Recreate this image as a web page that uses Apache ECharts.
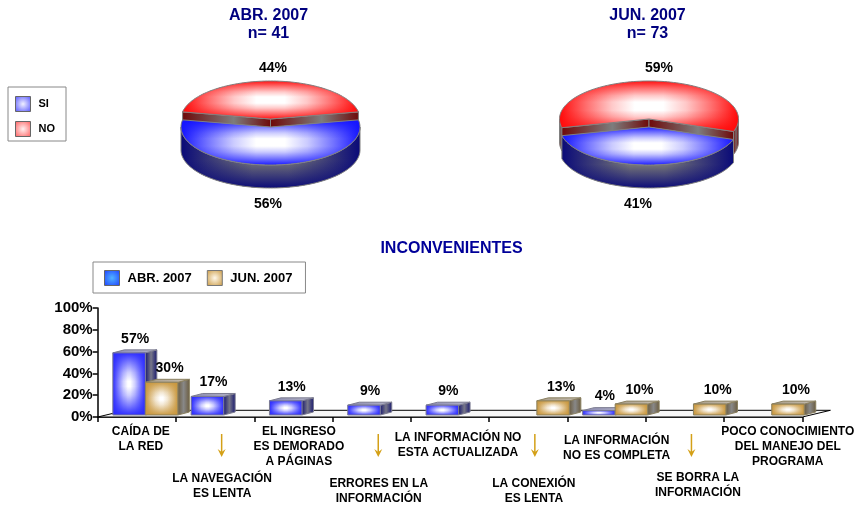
<!DOCTYPE html>
<html>
<head>
<meta charset="utf-8">
<style>
  html, body { margin: 0; padding: 0; background: #fff; }
  #chart { width: 855px; height: 506px; }
</style>
<script src="https://cdn.jsdelivr.net/npm/echarts@6/dist/echarts.min.js"></script>
</head>
<body>
<div id="chart"></div>
<script>
// datos de las tortas
var pieTitles = ['ABR. 2007\nn= 41', 'JUN. 2007\nn= 73'];
var siValues = [56, 41];
var noValues = [44, 59];

// datos de las barras
var categories = [
  'CAÍDA DE\nLA RED',
  'LA NAVEGACIÓN\nES LENTA',
  'EL INGRESO\nES DEMORADO\nA PÁGINAS',
  'ERRORES EN LA\nINFORMACIÓN',
  'LA INFORMACIÓN NO\nESTA ACTUALIZADA',
  'LA CONEXIÓN\nES LENTA',
  'LA INFORMACIÓN\nNO ES COMPLETA',
  'SE BORRA LA\nINFORMACIÓN',
  'POCO CONOCIMIENTO\nDEL MANEJO DEL\nPROGRAMA'
];
var abrValues = [57, 17, 13, 9, 9, null, 4, null, null];
var junValues = [30, null, null, null, null, 13, 10, 10, 10];
var arrowCategories = [1, 3, 5, 7];

// ajustes de dibujo
var FONT = '"Liberation Sans", Arial, sans-serif';
var PIE_CX = [270.5, 649];
var PIE_ROT = [0, 3];
var PIE_RX = 89.5, PIE_RY = 38, PIE_DEPTH = 23;
var NO_CY = 119, SI_CY = 127;
var NO_LABEL = [[273, 68], [659, 68]];
var SI_LABEL = [[268, 204], [638, 204]];
var LABEL_PAD = [[0, 8], [47, 14], [0, 11], [52, 14], [6, 16], [52, 11], [9, 20], [46, 26], [0, 49]];

function stopsOf(list) {
  return list.map(function (s) { return { offset: s[0], color: s[1] }; });
}
function hGrad(stops) {
  return { type: 'linear', x: 0, y: 0, x2: 1, y2: 0, colorStops: stopsOf(stops) };
}
function vGrad(stops) {
  return { type: 'linear', x: 0, y: 0, x2: 0, y2: 1, colorStops: stopsOf(stops) };
}
// pinta un degradado de marco: horizontal opaco y vertical encima con alpha, con caida suave
function boxGrad(rgb, ha, va) {
  function over(k) {
    var c = rgb.map(function (n) { return Math.round(255 + (n - 255) * k); });
    return 'rgb(' + c.join(',') + ')';
  }
  function alpha(k) {
    return 'rgba(' + rgb.join(',') + ',' + k + ')';
  }
  return {
    h: hGrad([[0, over(1)], [ha * 0.35, over(0.6)], [ha * 0.7, over(0.22)], [ha, over(0)],
      [1 - ha, over(0)], [1 - ha * 0.7, over(0.22)], [1 - ha * 0.35, over(0.6)], [1, over(1)]]),
    v: vGrad([[0, alpha(1)], [va * 0.35, alpha(0.6)], [va * 0.7, alpha(0.22)], [va, alpha(0)],
      [1 - va, alpha(0)], [1 - va * 0.7, alpha(0.22)], [1 - va * 0.35, alpha(0.6)], [1, alpha(1)]])
  };
}
function swatch(edge, mid) {
  return { type: 'radial', x: 0.5, y: 0.5, r: 0.7, colorStops: [{ offset: 0, color: mid }, { offset: 1, color: edge }] };
}

function ellPoint(cx, cy, deg) {
  var t = deg * Math.PI / 180;
  return [cx + PIE_RX * Math.sin(t), cy - PIE_RY * Math.cos(t)];
}
function arc(cx, cy, from, to) {
  var pts = [];
  var n = Math.max(2, Math.ceil(Math.abs(to - from) / 2));
  for (var i = 0; i <= n; i++) pts.push(ellPoint(cx, cy, from + (to - from) * i / n));
  return pts;
}
function poly(points, fill, stroke) {
  return { type: 'polygon', shape: { points: points }, style: { fill: fill, stroke: stroke || 'none', lineWidth: stroke ? 1 : 0 } };
}
function sidePoly(cx, cy, from, to, colors) {
  var top = arc(cx, cy, from, to);
  var low = top.map(function (p) { return [p[0], p[1] + PIE_DEPTH]; }).reverse();
  var pts = top.concat(low);
  return [poly(pts, colors.h), poly(pts, colors.v, '#808080')];
}
function textEl(x, y, text, size) {
  return { type: 'text', z2: 50, style: { x: x, y: y, text: text, fill: '#000', font: 'bold ' + size + 'px ' + FONT, align: 'center', verticalAlign: 'middle' } };
}

var sideBlue = {
  h: hGrad([[0, '#0a0a78'], [0.4, '#777777'], [0.6, '#777777'], [1, '#0a0a78']]),
  v: vGrad([[0, 'rgba(10,10,120,0)'], [0.55, 'rgba(10,10,120,0)'], [1, 'rgba(10,10,120,1)']])
};
var sideRed = {
  h: hGrad([[0, '#7a0a0a'], [0.5, '#777777'], [1, '#7a0a0a']]),
  v: vGrad([[0, 'rgba(120,10,10,0)'], [1, 'rgba(120,10,10,0.2)']])
};
var topRed = boxGrad([255, 10, 10], 0.42, 0.42);
var topBlue = boxGrad([20, 20, 255], 0.42, 0.42);

function renderNo(params, api) {
  var i = api.value(0), span = api.value(1) * 3.6;
  var cx = PIE_CX[i], cy = NO_CY, rot = PIE_ROT[i];
  var a0 = rot - span / 2, a1 = rot + span / 2;
  var kids = [];
  // costado exterior que asoma a cada lado
  if (a1 > 90) kids = kids.concat(sidePoly(cx, cy, 90, a1, sideRed));
  if (a0 < -90) kids = kids.concat(sidePoly(cx, cy, a0, -90, sideRed));
  // caras del corte
  [a0, a1].forEach(function (ang) {
    var e = ellPoint(cx, cy, ang);
    var pts = [[cx, cy], e, [e[0], e[1] + PIE_DEPTH], [cx, cy + PIE_DEPTH]];
    kids.push(poly(pts, hGrad([[0, '#6e0808'], [0.58, '#7d7d7d'], [1, '#6e0808']]), '#808080'));
  });
  var top = [[cx, cy]].concat(arc(cx, cy, a0, a1));
  kids.push(poly(top, topRed.h));
  kids.push(poly(top, topRed.v, '#808080'));
  kids.push(textEl(NO_LABEL[i][0], NO_LABEL[i][1], api.value(1) + '%', 14));
  return { type: 'group', children: kids };
}

function renderSi(params, api) {
  var i = api.value(0), span = api.value(1) * 3.6;
  var cx = PIE_CX[i], cy = SI_CY, mid = 180 + PIE_ROT[i];
  var a0 = mid - span / 2, a1 = mid + span / 2;
  var kids = sidePoly(cx, cy, Math.max(90, a0), Math.min(270, a1), sideBlue);
  var top = [[cx, cy]].concat(arc(cx, cy, a0, a1));
  kids.push(poly(top, topBlue.h));
  kids.push(poly(top, topBlue.v, '#808080'));
  kids.push(textEl(SI_LABEL[i][0], SI_LABEL[i][1], api.value(1) + '%', 14));
  return { type: 'group', children: kids };
}

var BAR_SHIFT = 8.5, BAR_RAISE = 2, DEPTH_X = 11.5, DEPTH_Y = 3;
var abrLook = {
  face: boxGrad([42, 42, 255], 0.46, 0.46),
  side: hGrad([[0, '#14146e'], [0.5, '#777788'], [1, '#14146e']]),
  top: hGrad([[0, '#8a8ab0'], [1, '#b4b4c8']]),
  line: '#7c7c90',
  labelShift: 6
};
var junLook = {
  face: boxGrad([200, 150, 60], 0.46, 0.46),
  side: hGrad([[0, '#6a5a3c'], [0.5, '#888888'], [1, '#6a5a3c']]),
  top: hGrad([[0, '#a89c88'], [1, '#c4bcb0']]),
  line: '#8a8060',
  labelShift: 8
};

function barRenderer(look, dir) {
  return function (params, api) {
    var val = api.value(1);
    var c = api.coord([api.value(0), val]);
    var base = api.coord([api.value(0), 0]);
    var w = api.size([1, 0])[0] * 0.415;
    var xc = c[0] + BAR_SHIFT;
    var x0 = dir < 0 ? xc - w : xc;
    var yt = c[1] - BAR_RAISE, yb = base[1] - BAR_RAISE;
    var x1 = x0 + w;
    var kids = [
      poly([[x1, yt], [x1 + DEPTH_X, yt - DEPTH_Y], [x1 + DEPTH_X, yb - DEPTH_Y], [x1, yb]], look.side, look.line),
      poly([[x0, yt], [x0 + DEPTH_X, yt - DEPTH_Y], [x1 + DEPTH_X, yt - DEPTH_Y], [x1, yt]], look.top, look.line),
      { type: 'rect', shape: { x: x0, y: yt, width: w, height: yb - yt }, style: { fill: look.face.h } },
      { type: 'rect', shape: { x: x0, y: yt, width: w, height: yb - yt }, style: { fill: look.face.v, stroke: look.line, lineWidth: 1 } },
      textEl(x0 + w / 2 + look.labelShift, yt - 14, val + '%', 14)
    ];
    return { type: 'group', children: kids };
  };
}

function renderFloor(params, api) {
  var sys = params.coordSys;
  var y = sys.y + sys.height, xa = sys.x, xb = sys.x + sys.width;
  return poly([[xa, y], [xa + 28, y - 6.7], [xb + 28, y - 6.7], [xb, y]], '#f7f7f7', '#000');
}

function renderArrow(params, api) {
  var p = api.coord([api.value(0), 0]);
  var x = p[0] + 6.5, y0 = p[1] + 17, y1 = p[1] + 40;
  return {
    type: 'group',
    children: [
      { type: 'line', shape: { x1: x, y1: y0, x2: x, y2: y1 - 4 }, style: { stroke: '#d4a017', lineWidth: 1.5 } },
      poly([[x - 4, y1 - 8], [x, y1 - 5], [x + 4, y1 - 8], [x, y1]], '#d4a017')
    ]
  };
}

function pairs(list) {
  var out = [];
  list.forEach(function (v, i) { if (v !== null) out.push([i, v]); });
  return out;
}

var chart = echarts.init(document.getElementById('chart'));
var categoryData = categories.map(function (name, i) {
  return { value: name, textStyle: { padding: [LABEL_PAD[i][0], 0, 0, LABEL_PAD[i][1]] } };
});

chart.setOption({
  animation: false,
  backgroundColor: '#ffffff',
  title: [
    { text: pieTitles[0], left: 263.5, top: 2, textAlign: 'center', textStyle: { fontFamily: FONT, fontWeight: 'bold', fontSize: 16, lineHeight: 18, color: '#00007f' } },
    { text: pieTitles[1], left: 642.5, top: 2, textAlign: 'center', textStyle: { fontFamily: FONT, fontWeight: 'bold', fontSize: 16, lineHeight: 18, color: '#00007f' } },
    { text: 'INCONVENIENTES', left: 446.5, top: 236, textAlign: 'center', textStyle: { fontFamily: FONT, fontWeight: 'bold', fontSize: 16, color: '#000099' } }
  ],
  legend: [
    {
      orient: 'vertical', left: 8, top: 87, padding: [9, 11, 4, 7], itemWidth: 15, itemHeight: 15, itemGap: 9,
      borderColor: '#888', borderWidth: 1, backgroundColor: '#fff', selectedMode: false,
      textStyle: { fontFamily: FONT, fontWeight: 'bold', fontSize: 11, color: '#000', padding: [0, 0, 0, 3] },
      data: [
        { name: 'SI', icon: 'rect', itemStyle: { color: swatch('#5050ff', '#f0f0ff'), borderColor: '#666', borderWidth: 1 } },
        { name: 'NO', icon: 'rect', itemStyle: { color: swatch('#ff5a5a', '#fff0f0'), borderColor: '#666', borderWidth: 1 } }
      ]
    },
    {
      orient: 'horizontal', left: 93, top: 262, padding: [8, 13, 7, 11], itemWidth: 15, itemHeight: 15, itemGap: 15,
      borderColor: '#888', borderWidth: 1, backgroundColor: '#fff', selectedMode: false,
      textStyle: { fontFamily: FONT, fontWeight: 'bold', fontSize: 13, color: '#000', padding: [0, 0, 0, 3] },
      data: [
        { name: 'ABR. 2007', icon: 'rect', itemStyle: { color: swatch('#1e3cff', '#50b4ff'), borderColor: '#666', borderWidth: 1 } },
        { name: 'JUN. 2007', icon: 'rect', itemStyle: { color: swatch('#c8963c', '#fff8ea'), borderColor: '#777', borderWidth: 1 } }
      ]
    }
  ],
  grid: { left: 97.7, right: 52.6, top: 308, bottom: 89, containLabel: false, outerBoundsMode: 'none' },
  xAxis: {
    type: 'category',
    data: categoryData,
    boundaryGap: true,
    axisLine: { lineStyle: { color: '#000', width: 1.5 } },
    axisTick: { show: true, length: 5, alignWithLabel: false, lineStyle: { color: '#000', width: 1.5 } },
    axisLabel: {
      interval: 0, margin: 7, align: 'center', verticalAlign: 'top', hideOverlap: false,
      fontFamily: FONT, fontWeight: 'bold', fontSize: 12, lineHeight: 15, color: '#000'
    }
  },
  yAxis: {
    type: 'value',
    min: 0, max: 100, interval: 20,
    splitLine: { show: false },
    axisLine: { show: true, lineStyle: { color: '#000', width: 1.5 } },
    axisTick: { show: true, length: 5, lineStyle: { color: '#000', width: 1.5 } },
    axisLabel: { margin: 5, formatter: '{value}%', fontFamily: FONT, fontWeight: 'bold', fontSize: 15, color: '#000' }
  },
  series: [
    { type: 'custom', name: 'NO', coordinateSystem: 'none', z: 3, itemStyle: { color: '#ff5a5a' }, renderItem: renderNo, data: pairs(noValues) },
    { type: 'custom', name: 'SI', coordinateSystem: 'none', z: 4, itemStyle: { color: '#5050ff' }, renderItem: renderSi, data: pairs(siValues) },
    { type: 'custom', name: 'piso', z: 1, renderItem: renderFloor, data: [[0, 0]], silent: true },
    { type: 'custom', name: 'flechas', z: 2, renderItem: renderArrow, data: arrowCategories.map(function (c) { return [c, 0]; }), silent: true },
    { type: 'custom', name: 'ABR. 2007', z: 5, itemStyle: { color: '#1e3cff' }, renderItem: barRenderer(abrLook, -1), data: pairs(abrValues) },
    { type: 'custom', name: 'JUN. 2007', z: 6, itemStyle: { color: '#c8963c' }, renderItem: barRenderer(junLook, 1), data: pairs(junValues) }
  ]
});
</script>
</body>
</html>
